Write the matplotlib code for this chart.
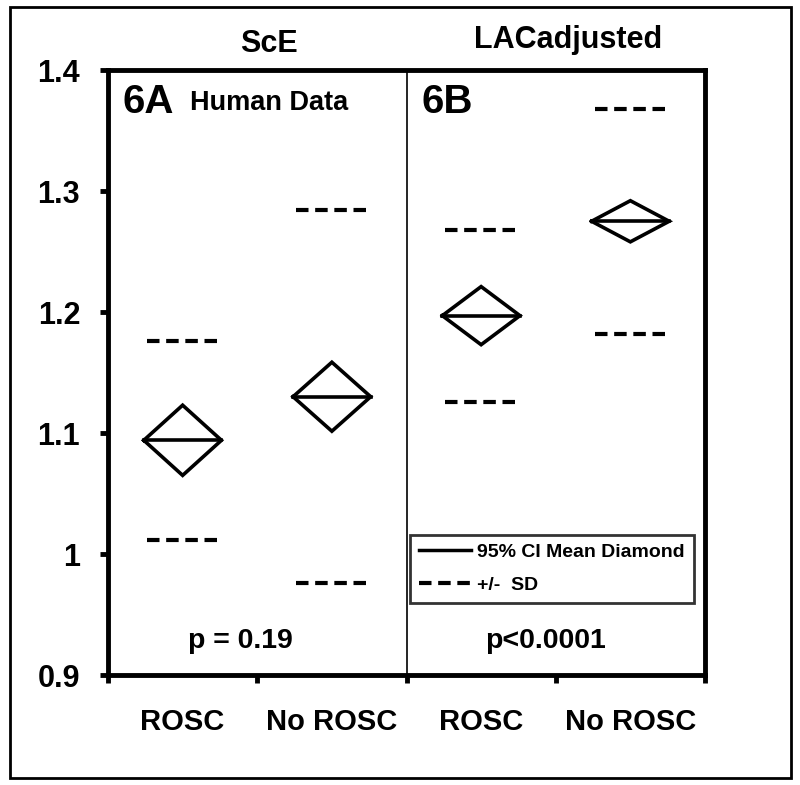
import matplotlib
matplotlib.use('Agg')
import matplotlib.pyplot as plt
from matplotlib.lines import Line2D
from matplotlib.patches import Rectangle
import matplotlib.transforms as mtransforms

plt.rcParams['font.family'] = ['Liberation Sans', 'DejaVu Sans']
plt.rcParams['font.weight'] = 'bold'

# data
groups = ['ROSC', 'No ROSC', 'ROSC', 'No ROSC']
positions = [0.5, 1.5, 2.5, 3.5]
means = [1.094, 1.130, 1.197, 1.275]
ci = [0.029, 0.0285, 0.024, 0.017]
sd = [0.082, 0.154, 0.071, 0.093]
panel_titles = ['ScE', 'LACadjusted']
p_values = ['p = 0.19', 'p<0.0001']
yticks = [0.9, 1.0, 1.1, 1.2, 1.3, 1.4]
ytick_labels = ['0.9', '1', '1.1', '1.2', '1.3', '1.4']

half_w = 0.26
dash_w = 0.24

fig = plt.figure(figsize=(8, 7.85), dpi=100)
ax = fig.add_axes([0.135, 0.1401, 0.74625, 0.7707])

for x, m, c, s in zip(positions, means, ci, sd):
    ax.plot([x - half_w, x, x + half_w, x, x - half_w],
            [m, m + c, m, m - c, m], color='black', lw=2.6,
            solid_joinstyle='miter')
    ax.plot([x - half_w, x + half_w], [m, m], color='black', lw=2.6)
    for yv in (m + s, m - s):
        ax.plot([x - dash_w, x + dash_w], [yv, yv], color='black', lw=3,
                dashes=(3.0, 1.6), solid_capstyle='butt', dash_capstyle='butt')

ax.axvline(2, color='black', lw=1.2)

ax.set_xlim(0, 4)
ax.set_ylim(0.9, 1.4)
ax.set_yticks(yticks)
ax.set_yticklabels(ytick_labels)
ax.set_xticks([0, 1, 2, 3, 4])
ax.set_xticklabels([])
ax.set_xticks(positions, minor=True)
ax.set_xticklabels(groups, minor=True)
ax.tick_params(axis='both', which='major', direction='out', length=6, width=3.5)
ax.tick_params(axis='y', labelsize=22, pad=14)
ax.tick_params(axis='x', which='minor', length=0, labelsize=21, pad=24)
for sp in ax.spines.values():
    sp.set_linewidth(3.5)

trans = mtransforms.blended_transform_factory(ax.transData, ax.transAxes)
ax.text(1.08, 1.030, panel_titles[0], transform=trans, ha='center', va='baseline',
        fontsize=22, fontweight='bold')
ax.text(3.08, 1.036, panel_titles[1], transform=trans, ha='center', va='baseline',
        fontsize=22, fontweight='bold')

ax.text(0.1, 0.929, '6A', transform=trans, ha='left', va='baseline',
        fontsize=29, fontweight='bold')
ax.text(0.55, 0.934, 'Human Data', transform=trans, ha='left', va='baseline',
        fontsize=19.5, fontweight='bold')
ax.text(2.1, 0.929, '6B', transform=trans, ha='left', va='baseline',
        fontsize=29, fontweight='bold')

ax.text(0.89, 0.045, p_values[0], transform=trans, ha='center', va='baseline',
        fontsize=20.5, fontweight='bold')
ax.text(2.93, 0.045, p_values[1], transform=trans, ha='center', va='baseline',
        fontsize=20.5, fontweight='bold')

handles = [Line2D([], [], color='black', lw=2.5),
           Line2D([], [], color='black', lw=3, dashes=(3.0, 1.6))]
leg = ax.legend(handles, ['95% CI Mean Diamond', '+/-  SD'],
                loc='lower left', bbox_to_anchor=(0.506, 0.119),
                frameon=True, fancybox=False, edgecolor='black',
                handlelength=2.7, handletextpad=0.3, borderpad=0.45,
                labelspacing=0.8, borderaxespad=0,
                prop={'weight': 'bold', 'size': 14})
leg.get_frame().set_linewidth(2)

fig.patches.append(Rectangle((10 / 800, 1 - 778 / 785), 781 / 800, 771 / 785,
                             transform=fig.transFigure, fill=False,
                             edgecolor='black', lw=2))

fig.savefig('out.png', dpi=100)
